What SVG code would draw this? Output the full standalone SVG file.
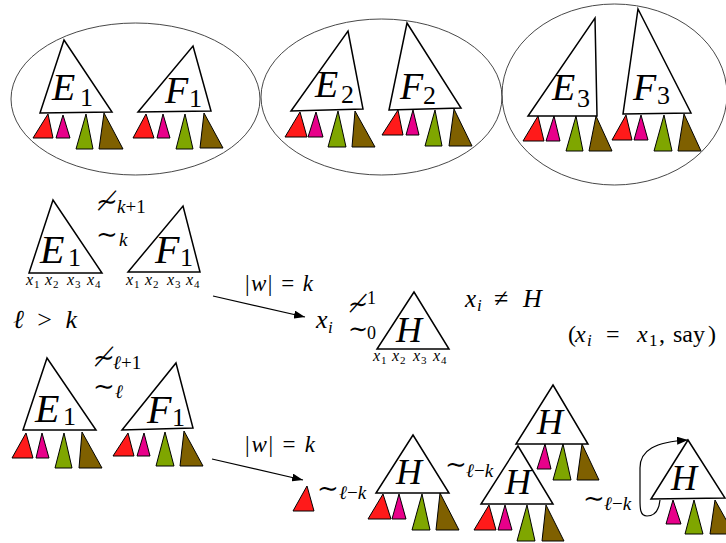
<svg xmlns="http://www.w3.org/2000/svg" width="726" height="543" viewBox="0 0 726 543">
<style>
.bg{fill:#fff}
.tri{fill:#fff;stroke:#000;stroke-width:1.5;stroke-linejoin:miter}
.r,.m,.g,.b{stroke:#000;stroke-width:1;stroke-linejoin:miter}
.r{fill:#ff1a1a}
.m{fill:#e8008a}
.g{fill:#7fa600}
.b{fill:#7f6000}
.ell{fill:none;stroke:#333;stroke-width:0.9}
text{font-family:"Liberation Serif";fill:#000}
.mi{font-style:italic}
.rm{font-style:normal}
.sym{font-style:normal;font-family:"DejaVu Serif"}
.big{font-size:38px}
.sub{font-size:26px}
.xs{font-size:16px}
.xsub{font-size:11px}
.conn{fill:none;stroke:#000;stroke-width:1.2}
</style>
<defs>
<marker id="ah" markerUnits="userSpaceOnUse" markerWidth="12" markerHeight="8" refX="11" refY="4" orient="auto">
<path d="M0,0 L11,4 L0,8 Z" fill="#000"/>
</marker>
</defs>
<rect class="bg" x="0" y="0" width="726" height="543"/>

<g id="group1">
<ellipse class="ell" cx="135.5" cy="99" rx="124.5" ry="76"/>
<g id="tree-E1-top">
<polygon class="r" points="48,114 33,138 53,138"/>
<polygon class="m" points="63,115 56,138 70,138"/>
<polygon class="g" points="86,114 76,149 93,149"/>
<polygon class="b" points="104,113 99,149 123,149"/>
<polygon class="tri" points="64,40 112,112 40,113"/>
<text class="mi big" x="52" y="100">E</text><text class="rm sub" x="80" y="106">1</text>
</g>
<g id="tree-F1-top">
<polygon class="r" points="146,114 133,138 154,138"/>
<polygon class="m" points="163,114 157,138 170,138"/>
<polygon class="g" points="185,114 176,149 193,149"/>
<polygon class="b" points="204,113 200,148 223,148"/>
<polygon class="tri" points="193,46 211,111 138,112"/>
<text class="mi big" x="165" y="103">F</text><text class="rm sub" x="189" y="107">1</text>
</g>
</g>

<g id="group2">
<ellipse class="ell" cx="381.5" cy="97" rx="120.5" ry="78"/>
<g id="tree-E2">
<polygon class="r" points="300,112 285,137 307,137"/>
<polygon class="m" points="316,112 308,137 323,137"/>
<polygon class="g" points="338,111 328,147 346,147"/>
<polygon class="b" points="355,111 352,147 375,147"/>
<polygon class="tri" points="348,31 363,109 291,111"/>
<text class="mi big" x="315" y="97">E</text><text class="rm sub" x="341" y="103">2</text>
</g>
<g id="tree-F2">
<polygon class="r" points="398,110 382,135 403,135"/>
<polygon class="m" points="413,110 406,135 419,135"/>
<polygon class="g" points="435,110 425,146 442,146"/>
<polygon class="b" points="454,109 449,146 472,146"/>
<polygon class="tri" points="407,23 461,108 389,110"/>
<text class="mi big" x="400" y="99">F</text><text class="rm sub" x="423" y="104">2</text>
</g>
</g>

<g id="group3">
<ellipse class="ell" cx="614.5" cy="94.5" rx="112.5" ry="90.5"/>
<g id="tree-E3">
<polygon class="r" points="538,116 523,141 544,141"/>
<polygon class="m" points="554,116 546,141 560,141"/>
<polygon class="g" points="576,116 566,151 583,151"/>
<polygon class="b" points="596,116 589,151 612,151"/>
<polygon class="tri" points="595,18 597,116 528,116"/>
<text class="mi big" x="552" y="100">E</text><text class="rm sub" x="577" y="107">3</text>
</g>
<g id="tree-F3">
<polygon class="r" points="626,115 612,140 632,140"/>
<polygon class="m" points="641,115 634,140 648,140"/>
<polygon class="g" points="664,115 654,151 672,151"/>
<polygon class="b" points="684,114 678,151 701,151"/>
<polygon class="tri" points="638,9 691,113 623,114"/>
<text class="mi big" x="633" y="100">F</text><text class="rm sub" x="657" y="104">3</text>
</g>
</g>

<g id="tree-E1-mid">
<polygon class="tri" points="53,200 102,273 29,273"/>
<text class="mi" font-size="40" x="40" y="263">E</text><text class="rm sub" x="68" y="266">1</text>
<text class="mi xs" x="26" y="285">x</text><text class="rm xsub" x="34" y="288">1</text>
<text class="mi xs" x="45" y="285">x</text><text class="rm xsub" x="53" y="288">2</text>
<text class="mi xs" x="67" y="285">x</text><text class="rm xsub" x="75" y="288">3</text>
<text class="mi xs" x="87" y="285">x</text><text class="rm xsub" x="95" y="288">4</text>
</g>
<g id="tree-F1-mid">
<polygon class="tri" points="183,206 200,272 128,272"/>
<text class="mi" font-size="40" x="155" y="263">F</text><text class="rm sub" x="180" y="266">1</text>
<text class="mi xs" x="126" y="285">x</text><text class="rm xsub" x="134" y="288">1</text>
<text class="mi xs" x="145" y="285">x</text><text class="rm xsub" x="153" y="288">2</text>
<text class="mi xs" x="167" y="285">x</text><text class="rm xsub" x="175" y="288">3</text>
<text class="mi xs" x="186" y="285">x</text><text class="rm xsub" x="194" y="288">4</text>
</g>
<g id="rel-k">
<text class="sym" font-size="26" x="96" y="210">≁</text>
<text class="mi" font-size="19" x="117" y="213">k<tspan class="rm">+1</tspan></text>
<text class="sym" font-size="26" x="96" y="243">∼</text>
<text class="mi" font-size="19" x="119" y="246">k</text>
</g>
<text id="l-gt-k" class="mi" font-size="26" x="13" y="328" textLength="64" lengthAdjust="spacing">ℓ <tspan class="rm">&gt;</tspan> k</text>

<g id="label-w1">
<text class="mi" font-size="23" x="245" y="291" textLength="68" lengthAdjust="spacing"><tspan class="rm">|</tspan>w<tspan class="rm">| = </tspan>k</text>
</g>
<g id="rel-xi-H">
<text class="mi" font-size="26" x="316" y="328">x</text><text class="mi" font-size="17" x="328" y="333">i</text>
<text class="sym" font-size="24" x="348" y="312">≁</text><text class="rm" font-size="18" x="367" y="304">1</text>
<text class="sym" font-size="24" x="348" y="337">∼</text><text class="rm" font-size="18" x="367" y="339">0</text>
</g>
<g id="tree-H-mid">
<polygon class="tri" points="414,292 449,349 377,349"/>
<text class="mi" font-size="36" x="396" y="342">H</text>
<text class="mi xs" x="373" y="361">x</text><text class="rm xsub" x="381" y="364">1</text>
<text class="mi xs" x="392" y="361">x</text><text class="rm xsub" x="400" y="364">2</text>
<text class="mi xs" x="413" y="361">x</text><text class="rm xsub" x="421" y="364">3</text>
<text class="mi xs" x="433" y="361">x</text><text class="rm xsub" x="441" y="364">4</text>
</g>
<g id="label-xi-neq-H">
<text class="mi" font-size="25" x="465" y="307">x</text><text class="mi" font-size="17" x="477" y="311">i</text>
<text class="rm" font-size="26" x="494" y="307">≠</text>
<text class="mi" font-size="26" x="523" y="307">H</text>
</g>
<g id="label-say">
<text class="rm" font-size="24" x="568" y="342">(</text>
<text class="mi" font-size="24" x="575" y="342">x</text><text class="mi" font-size="17" x="587" y="346">i</text>
<text class="rm" font-size="24" x="606" y="342">=</text>
<text class="mi" font-size="24" x="637" y="342">x</text><text class="rm" font-size="17" x="649" y="346">1</text>
<text class="rm" font-size="24" x="659" y="342">,</text>
<text class="rm" font-size="24" x="673" y="342">say</text>
<text class="rm" font-size="24" x="708" y="342">)</text>
</g>

<g id="tree-E1-bot">
<polygon class="r" points="26,433 12,458 33,458"/>
<polygon class="m" points="42,433 36,458 49,458"/>
<polygon class="g" points="64,433 55,468 72,468"/>
<polygon class="b" points="82,432 79,468 102,468"/>
<polygon class="tri" points="47,358 96,430 23,430"/>
<text class="mi" font-size="40" x="35" y="422">E</text><text class="rm sub" x="63" y="425">1</text>
</g>
<g id="tree-F1-bot">
<polygon class="r" points="128,433 113,456 134,456"/>
<polygon class="m" points="144,433 137,456 150,456"/>
<polygon class="g" points="165,432 156,466 174,466"/>
<polygon class="b" points="184,431 180,466 203,466"/>
<polygon class="tri" points="176,363 193,428 122,430"/>
<text class="mi" font-size="40" x="147" y="423">F</text><text class="rm sub" x="172" y="426">1</text>
</g>
<g id="rel-l">
<text class="sym" font-size="26" x="93" y="366">≁</text>
<text class="mi" font-size="19" x="113" y="369">ℓ<tspan class="rm">+1</tspan></text>
<text class="sym" font-size="26" x="93" y="395">∼</text>
<text class="mi" font-size="19" x="115" y="398">ℓ</text>
</g>
<g id="label-w2">
<text class="mi" font-size="23" x="245" y="452" textLength="70" lengthAdjust="spacing"><tspan class="rm">|</tspan>w<tspan class="rm">| = </tspan>k</text>
</g>

<g id="red-single">
<polygon class="r" points="307,486 293,511 314,511"/>
</g>
<g id="rel-lk-1">
<text class="sym" font-size="26" x="317" y="497">∼</text>
<text class="mi" font-size="19" x="339" y="499">ℓ<tspan class="rm">−</tspan>k</text>
</g>
<g id="tree-H-a">
<polygon class="r" points="383,494 368,519 391,519"/>
<polygon class="m" points="399,494 392,519 406,519"/>
<polygon class="g" points="422,494 412,530 430,530"/>
<polygon class="b" points="440,493 436,530 459,530"/>
<polygon class="tri" points="413,435 449,493 376,493"/>
<text class="mi" font-size="36" x="396" y="484">H</text>
</g>
<g id="rel-lk-2">
<text class="sym" font-size="26" x="445" y="473">∼</text>
<text class="mi" font-size="19" x="466" y="477">ℓ<tspan class="rm">−</tspan>k</text>
</g>
<g id="tree-H-upper">
<polygon class="m" points="545,444 537,469 551,469"/>
<polygon class="g" points="563,444 553,480 571,480"/>
<polygon class="b" points="582,444 577,480 599,480"/>
<polygon class="tri" points="553,385 588,444 516,444"/>
<text class="mi" font-size="36" x="537" y="434">H</text>
</g>
<g id="tree-H-lower">
<polygon class="r" points="489,505 474,530 496,530"/>
<polygon class="m" points="505,505 498,530 512,530"/>
<polygon class="g" points="527,505 517,541 535,541"/>
<polygon class="b" points="546,505 542,541 564,541"/>
<polygon class="tri" points="518,446 553,504 481,504"/>
<text class="mi" font-size="36" x="505" y="494">H</text>
</g>
<g id="rel-lk-3">
<text class="sym" font-size="26" x="583" y="507">∼</text>
<text class="mi" font-size="19" x="604" y="510">ℓ<tspan class="rm">−</tspan>k</text>
</g>
<g id="tree-H-right">
<polygon class="m" points="673,500 666,524 681,524"/>
<polygon class="g" points="694,500 685,534 703,534"/>
<polygon class="b" points="715,500 710,534 734,534"/>
<polygon class="tri" points="688,440 725,498 651,499"/>
<text class="mi" font-size="36" x="671" y="490">H</text>
</g>

<g id="connectors">
<line class="conn" x1="213" y1="296" x2="305" y2="317" marker-end="url(#ah)"/>
<line class="conn" x1="212" y1="459" x2="303" y2="480" marker-end="url(#ah)"/>
<path class="conn" d="M660,500 C659,510 655,516 647,516 C640,516 640,508 640,500 L640,468 C640,450 655,442 688,440" marker-end="url(#ah)"/>
</g>
</svg>
